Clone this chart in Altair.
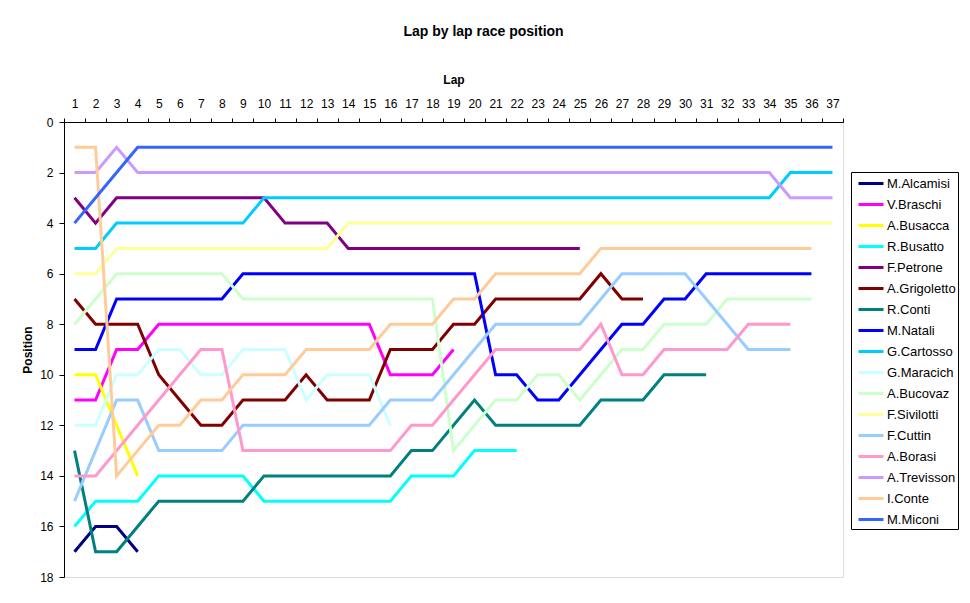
import altair as alt
import pandas as pd

names = ["M.Alcamisi", "V.Braschi", "A.Busacca", "R.Busatto", "F.Petrone",
         "A.Grigoletto", "R.Conti", "M.Natali", "G.Cartosso", "G.Maracich",
         "A.Bucovaz", "F.Sivilotti", "F.Cuttin", "A.Borasi", "A.Trevisson",
         "I.Conte", "M.Miconi"]
colors = ["#000080", "#FF00FF", "#FFFF00", "#00FFFF", "#800080",
          "#800000", "#008080", "#0000FF", "#00CCFF", "#CCFFFF",
          "#CCFFCC", "#FFFF99", "#99CCFF", "#FF99CC", "#CC99FF",
          "#FFCC99", "#3366FF"]

alcamisi = [17, 16, 16, 17]
braschi = [11, 11, 9, 9, 8, 8, 8, 8, 8, 8, 8, 8, 8, 8, 8, 10, 10, 10, 9]
busacca = [10, 10, 12, 14]
busatto = [16, 15, 15, 15, 14, 14, 14, 14, 14, 15, 15, 15, 15, 15, 15, 15,
           14, 14, 14, 13, 13, 13]
petrone = [3, 4, 3, 3, 3, 3, 3, 3, 3, 3, 4, 4, 4, 5, 5, 5, 5, 5, 5, 5, 5, 5,
           5, 5, 5]
grigoletto = [7, 8, 8, 8, 10, 11, 12, 12, 11, 11, 11, 10, 11, 11, 11, 9, 9, 9,
              8, 8, 7, 7, 7, 7, 7, 6, 7, 7]
conti_r = [13, 17, 17, 16, 15, 15, 15, 15, 15, 14, 14, 14, 14, 14, 14, 14, 13,
           13, 12, 11, 12, 12, 12, 12, 12, 11, 11, 11, 10, 10, 10]
natali = [9, 9, 7, 7, 7, 7, 7, 7, 6, 6, 6, 6, 6, 6, 6, 6, 6, 6, 6, 6, 10, 10,
          11, 11, 10, 9, 8, 8, 7, 7, 6, 6, 6, 6, 6, 6]
cartosso = [5, 5, 4, 4, 4, 4, 4, 4, 4, 3, 3, 3, 3, 3, 3, 3, 3, 3, 3, 3, 3, 3,
            3, 3, 3, 3, 3, 3, 3, 3, 3, 3, 3, 3, 2, 2, 2]
maracich = [12, 12, 10, 10, 9, 9, 10, 10, 9, 9, 9, 11, 10, 10, 10, 12]
bucovaz = [8, 7, 6, 6, 6, 6, 6, 6, 7, 7, 7, 7, 7, 7, 7, 7, 7, 7, 13, 12, 11,
           11, 10, 10, 11, 10, 9, 9, 8, 8, 8, 7, 7, 7, 7, 7]
sivilotti = [6, 6, 5, 5, 5, 5, 5, 5, 5, 5, 5, 5, 5, 4, 4, 4, 4, 4, 4, 4, 4, 4,
             4, 4, 4, 4, 4, 4, 4, 4, 4, 4, 4, 4, 4, 4, 4]
cuttin = [15, 13, 11, 11, 13, 13, 13, 13, 12, 12, 12, 12, 12, 12, 12, 11, 11,
          11, 10, 9, 8, 8, 8, 8, 8, 7, 6, 6, 6, 6, 7, 8, 9, 9, 9]
borasi = [14, 14, 13, 12, 11, 10, 9, 9, 13, 13, 13, 13, 13, 13, 13, 13, 12, 12,
          11, 10, 9, 9, 9, 9, 9, 8, 10, 10, 9, 9, 9, 9, 8, 8, 8]
trevisson = [2, 2, 1, 2, 2, 2, 2, 2, 2, 2, 2, 2, 2, 2, 2, 2, 2, 2, 2, 2, 2, 2,
             2, 2, 2, 2, 2, 2, 2, 2, 2, 2, 2, 2, 3, 3, 3]
conte_i = [1, 1, 14, 13, 12, 12, 11, 11, 10, 10, 10, 9, 9, 9, 9, 8, 8, 8, 7, 7,
           6, 6, 6, 6, 6, 5, 5, 5, 5, 5, 5, 5, 5, 5, 5, 5]
miconi = [4, 3, 2, 1, 1, 1, 1, 1, 1, 1, 1, 1, 1, 1, 1, 1, 1, 1, 1, 1, 1, 1,
          1, 1, 1, 1, 1, 1, 1, 1, 1, 1, 1, 1, 1, 1, 1]

series = [alcamisi, braschi, busacca, busatto, petrone, grigoletto, conti_r,
          natali, cartosso, maracich, bucovaz, sivilotti, cuttin, borasi,
          trevisson, conte_i, miconi]

rows = []
for i, (name, vals) in enumerate(zip(names, series)):
    for lap, pos in enumerate(vals, start=1):
        rows.append({"Driver": name, "Lap": lap, "Position": pos, "idx": i})
df = pd.DataFrame(rows)

FONT = "Liberation Sans"
half_ticks = [k + 0.5 for k in range(0, 38)]

chart = alt.Chart(df).mark_line(strokeWidth=3, strokeJoin="miter").encode(
    x=alt.X("Lap:Q",
            scale=alt.Scale(domain=[0.5, 37.5], nice=False, zero=False),
            axis=alt.Axis(orient="top", values=half_ticks, title="Lap",
                          labelExpr="datum.value < 37 ? format(datum.value + 0.5, 'd') : ''",
                          labelOffset=10.53, grid=False, tickSize=4,
                          tickColor="black", domainColor="black",
                          labelPadding=8, titlePadding=11,
                          labelFont=FONT, labelFontSize=12, labelColor="black",
                          titleFont=FONT, titleFontSize=12, titleFontWeight="bold",
                          labelFlush=False, labelOverlap=False)),
    y=alt.Y("Position:Q",
            scale=alt.Scale(domain=[0, 18], reverse=True, nice=False),
            axis=alt.Axis(values=list(range(0, 19, 2)), title="Position",
                          grid=False, tickSize=5, tickColor="black",
                          domainColor="black", labelPadding=6, titlePadding=5,
                          labelFont=FONT, labelFontSize=12, labelColor="black",
                          titleFont=FONT, titleFontSize=12, titleFontWeight="bold",
                          labelFlush=False)),
    color=alt.Color("Driver:N",
                    scale=alt.Scale(domain=names, range=colors),
                    legend=alt.Legend(orient="none", legendX=787, legendY=50,
                                      title=None,
                                      symbolType="M-0.5,0H2.625",
                                      symbolStrokeWidth=3, symbolSize=256,
                                      labelFont=FONT, labelFontSize=13,
                                      labelColor="black", strokeColor="black",
                                      fillColor="white", padding=2,
                                      rowPadding=4, labelOffset=15,
                                      labelLimit=0)),
    order=alt.Order("idx:Q"),
    detail="Driver:N",
).properties(
    width=779,
    height=455,
    title=alt.TitleParams("Lap by lap race position", font=FONT, fontSize=14,
                          fontWeight="bold", anchor="middle", dx=30,
                          offset=34, color="black"),
    padding={"left": 13, "top": 17, "right": 0, "bottom": 5},
).configure_view(
    fill="#C0C0C0", stroke="#808080", strokeWidth=1
).configure(background="white")

chart.save("out.html", embed_options={"renderer": "svg", "actions": False})
